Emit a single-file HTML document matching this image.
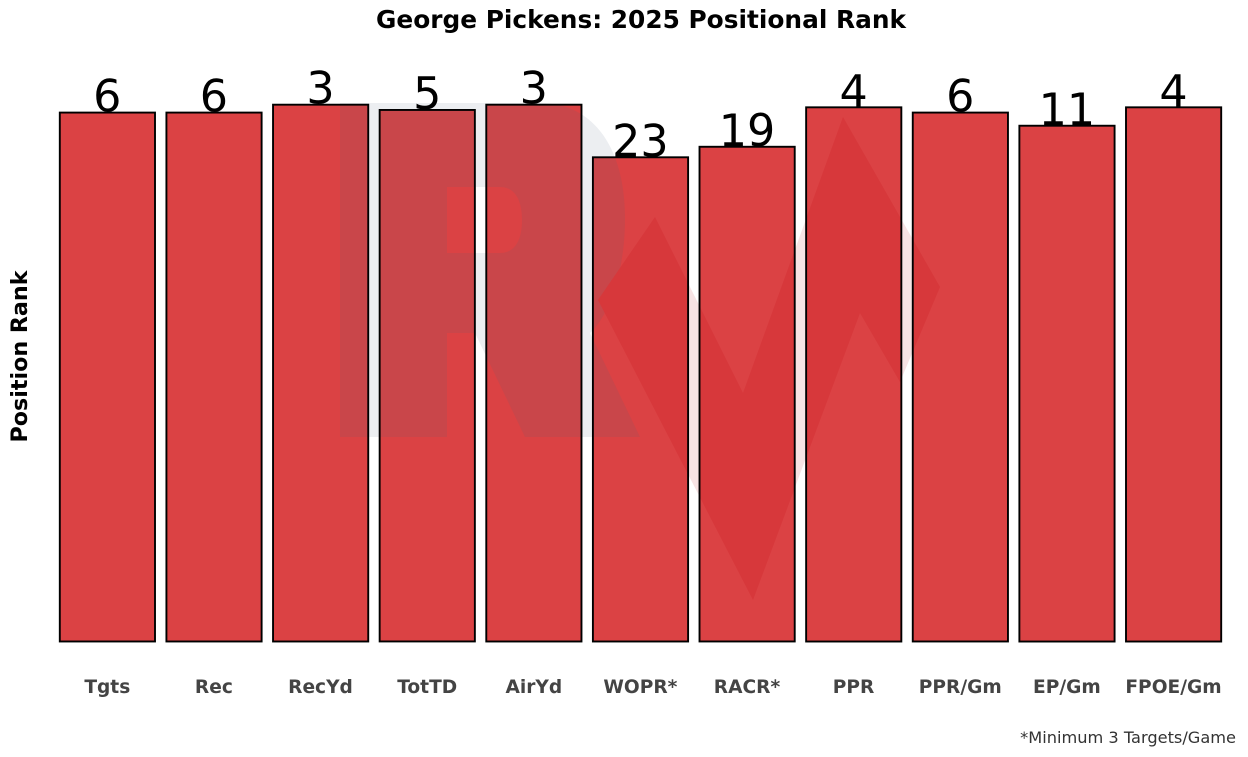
<!DOCTYPE html>
<html><head><meta charset="utf-8"><style>
html,body{margin:0;padding:0;background:#fff;}
svg{display:block;}
</style></head><body>
<svg width="1248" height="757" viewBox="0 0 1248 757" xmlns="http://www.w3.org/2000/svg">
<defs>
<clipPath id="bars">
<rect x="59.8" y="112.58" width="95.2" height="528.9"/>
<rect x="166.42" y="112.58" width="95.2" height="528.9"/>
<rect x="273.04" y="104.69" width="95.2" height="536.8"/>
<rect x="379.66" y="109.95" width="95.2" height="531.5"/>
<rect x="486.28" y="104.69" width="95.2" height="536.8"/>
<rect x="592.9" y="157.29" width="95.2" height="484.2"/>
<rect x="699.52" y="146.77" width="95.2" height="494.7"/>
<rect x="806.14" y="107.32" width="95.2" height="534.2"/>
<rect x="912.76" y="112.58" width="95.2" height="528.9"/>
<rect x="1019.38" y="125.73" width="95.2" height="515.8"/>
<rect x="1126.0" y="107.32" width="95.2" height="534.2"/>
</clipPath>
</defs>
<rect width="1248" height="757" fill="#fff"/>
<!-- light watermark -->
<path fill="#eceef1" fill-rule="evenodd" d="M340,103 H540 C595,103 625,150 625,218 C625,280 605,320 590,333 L640,437 H525 L475,333 H447 V437 H340 Z M447,187 H500 C515,187 522,200 522,220 C522,240 515,253 500,253 H447 Z"/>
<polygon fill="#f7e3e4" points="655,217 743,393 843,117 940,287 900,382 860,313 753,600 598,300"/>
<!-- bars fill -->
<g fill="#db4244">
<rect x="59.8" y="112.58" width="95.2" height="528.9"/>
<rect x="166.42" y="112.58" width="95.2" height="528.9"/>
<rect x="273.04" y="104.69" width="95.2" height="536.8"/>
<rect x="379.66" y="109.95" width="95.2" height="531.5"/>
<rect x="486.28" y="104.69" width="95.2" height="536.8"/>
<rect x="592.9" y="157.29" width="95.2" height="484.2"/>
<rect x="699.52" y="146.77" width="95.2" height="494.7"/>
<rect x="806.14" y="107.32" width="95.2" height="534.2"/>
<rect x="912.76" y="112.58" width="95.2" height="528.9"/>
<rect x="1019.38" y="125.73" width="95.2" height="515.8"/>
<rect x="1126.0" y="107.32" width="95.2" height="534.2"/>
</g>
<!-- dark watermark on bars -->
<g clip-path="url(#bars)">
<path fill="#c9464a" fill-rule="evenodd" d="M340,103 H540 C595,103 625,150 625,218 C625,280 605,320 590,333 L640,437 H525 L475,333 H447 V437 H340 Z M447,187 H500 C515,187 522,200 522,220 C522,240 515,253 500,253 H447 Z"/>
<polygon fill="#d7383b" points="655,217 743,393 843,117 940,287 900,382 860,313 753,600 598,300"/>
</g>
<!-- bar outlines -->
<g fill="none" stroke="#000" stroke-width="1.9">
<rect x="59.8" y="112.58" width="95.2" height="528.9"/>
<rect x="166.42" y="112.58" width="95.2" height="528.9"/>
<rect x="273.04" y="104.69" width="95.2" height="536.8"/>
<rect x="379.66" y="109.95" width="95.2" height="531.5"/>
<rect x="486.28" y="104.69" width="95.2" height="536.8"/>
<rect x="592.9" y="157.29" width="95.2" height="484.2"/>
<rect x="699.52" y="146.77" width="95.2" height="494.7"/>
<rect x="806.14" y="107.32" width="95.2" height="534.2"/>
<rect x="912.76" y="112.58" width="95.2" height="528.9"/>
<rect x="1019.38" y="125.73" width="95.2" height="515.8"/>
<rect x="1126.0" y="107.32" width="95.2" height="534.2"/>
</g>
<!-- value labels -->
<g font-family="'DejaVu Sans','Liberation Sans',sans-serif" font-size="44.4" fill="#000" text-anchor="middle">
<text x="107.3" y="111.6">6</text>
<text x="213.9" y="111.6">6</text>
<text x="320.5" y="103.7">3</text>
<text x="427.2" y="109">5</text>
<text x="533.8" y="103.7">3</text>
<text x="640.4" y="156.3">23</text>
<text x="747.0" y="145.8">19</text>
<text x="853.6" y="106.3">4</text>
<text x="960.3" y="111.6">6</text>
<text x="1066.9" y="124.8">11</text>
<text x="1173.5" y="106.3">4</text>
</g>
<!-- title -->
<text x="641" y="28" font-family="'DejaVu Sans','Liberation Sans',sans-serif" font-weight="bold" font-size="25" text-anchor="middle" fill="#000" textLength="530" lengthAdjust="spacingAndGlyphs">George Pickens: 2025 Positional Rank</text>
<!-- y label -->
<text transform="translate(27,356.5) rotate(-90)" font-family="'DejaVu Sans','Liberation Sans',sans-serif" font-weight="bold" font-size="22.2" text-anchor="middle" fill="#000">Position Rank</text>
<!-- x labels -->
<g font-family="'DejaVu Sans','Liberation Sans',sans-serif" font-weight="bold" font-size="18.6" fill="#444" text-anchor="middle">
<text x="107.3" y="693">Tgts</text>
<text x="213.9" y="693">Rec</text>
<text x="320.5" y="693">RecYd</text>
<text x="427.2" y="693">TotTD</text>
<text x="533.8" y="693">AirYd</text>
<text x="640.4" y="693">WOPR*</text>
<text x="747.0" y="693">RACR*</text>
<text x="853.6" y="693">PPR</text>
<text x="960.3" y="693">PPR/Gm</text>
<text x="1066.9" y="693">EP/Gm</text>
<text x="1173.5" y="693">FPOE/Gm</text>
</g>
<!-- footnote -->
<text x="1236" y="743" font-family="'DejaVu Sans','Liberation Sans',sans-serif" font-size="16.2" fill="#333" text-anchor="end">*Minimum 3 Targets/Game</text>
</svg>
</body></html>
